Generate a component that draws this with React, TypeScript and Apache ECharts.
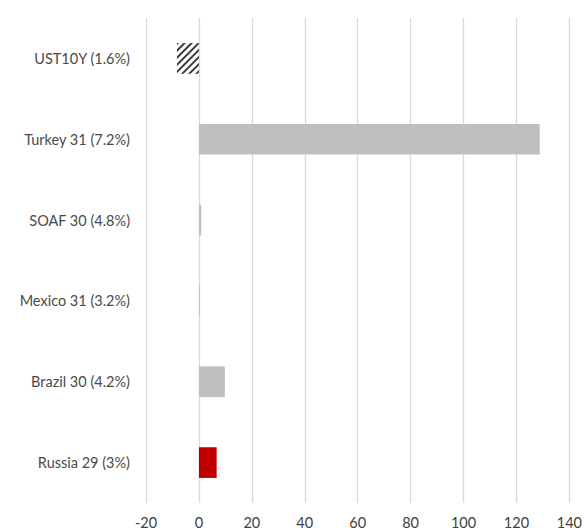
import React, { useEffect, useRef } from "react";
import * as echarts from "echarts";

const categories = [
  "UST10Y (1.6%)",
  "Turkey 31 (7.2%)",
  "SOAF 30 (4.8%)",
  "Mexico 31 (3.2%)",
  "Brazil 30 (4.2%)",
  "Russia 29 (3%)",
];
const values = [-8.3, 128.8, 0.9, 0.3, 9.8, 6.7];
const barKinds = ["hatch", "gray", "gray", "gray", "gray", "red"];
const xMin = -20;
const xMax = 140;
const xInterval = 20;

export default function App() {
  const ref = useRef<HTMLDivElement>(null);
  useEffect(() => {
    if (!ref.current) return;
    const chart = echarts.init(ref.current, null, { renderer: "svg" });
    const data = values.map((v, i) => {
      const kind = barKinds[i];
      if (kind === "hatch") {
        return {
          value: v,
          itemStyle: {
            color: "#ffffff",
            decal: {
              symbol: "rect",
              symbolSize: 1,
              dashArrayX: [1, 0],
              dashArrayY: [2, 2.5],
              rotation: -Math.PI / 4,
              color: "#3a3a3a",
            },
          },
        };
      }
      return { value: v, itemStyle: { color: kind === "red" ? "#c00000" : "#bfbfbf" } };
    });
    chart.setOption({
      animation: false,
      grid: { left: 146, right: 15, top: 18, bottom: 27, containLabel: false },
      textStyle: { fontFamily: "Lato, 'Open Sans', sans-serif" },
      xAxis: {
        type: "value",
        min: xMin,
        max: xMax,
        interval: xInterval,
        axisLine: { show: false },
        axisTick: { show: false },
        splitLine: { show: true, lineStyle: { color: "#d9d9d9", width: 1.3 } },
        axisLabel: { color: "#404040", fontSize: 14.5, margin: 12, fontFamily: "Lato, sans-serif" },
      },
      yAxis: {
        type: "category",
        data: categories,
        inverse: true,
        axisLine: { show: false, onZero: false },
        axisTick: { show: false },
        splitLine: { show: false },
        axisLabel: { color: "#4a4a4a", fontSize: 14.5, margin: 16, fontFamily: "Lato, sans-serif" },
      },
      series: [
        {
          type: "bar",
          data,
          barWidth: "38%",
        },
      ],
    });
    return () => chart.dispose();
  }, []);
  return <div ref={ref} style={{ width: 585, height: 530, position: "absolute", left: 0, top: 0 }} />;
}
